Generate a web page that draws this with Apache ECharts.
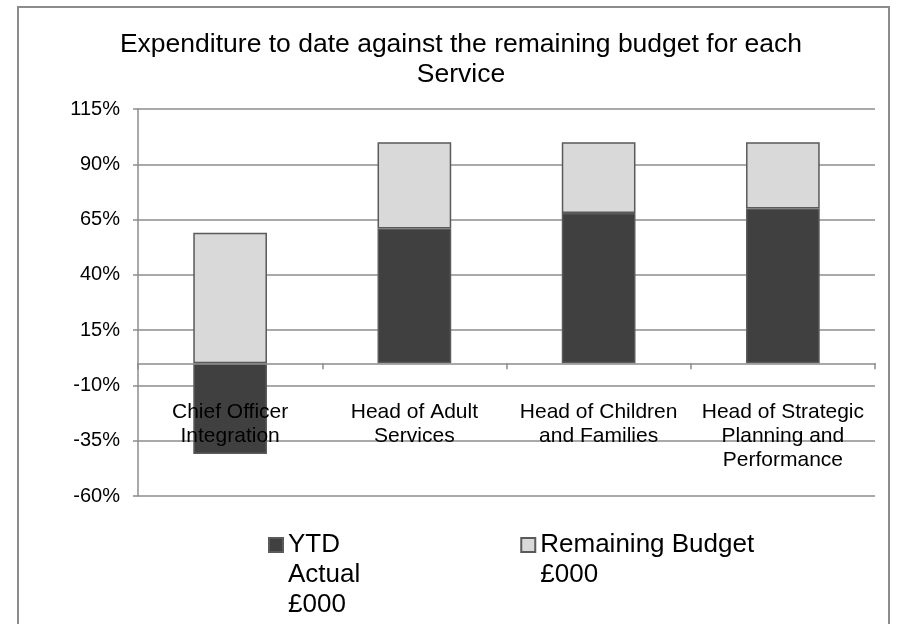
<!DOCTYPE html>
<html>
<head>
<meta charset="utf-8">
<script src="https://cdn.jsdelivr.net/npm/echarts@6/dist/echarts.min.js"></script>
<style>
  html, body { margin: 0; padding: 0; background: #fff; }
  #chart { width: 908px; height: 624px; }
</style>
</head>
<body>
<div id="chart"></div>
<script>
// categories as drawn (Excel wraps them)
const categories = ['Chief Officer\nIntegration', 'Head of Adult\nServices', 'Head of Children\nand Families', 'Head of Strategic\nPlanning and\nPerformance']
const seriesNames = ['YTD Actual £000', 'Remaining Budget £000']
// legend text wraps; blank lines keep the icon next to the first line
const legendLabels = {
  'YTD Actual £000': '\n\nYTD\nActual\n£000',
  'Remaining Budget £000': '\n\nRemaining Budget\n£000\n'
}
const ytdActual = [-41, 61, 68, 70]
const remainingBudget = [59, 39, 32, 30]
const yMin = -60
const yMax = 115
const yStep = 25

const colors = ['#404040', '#d9d9d9']
const font = 'Liberation Sans, Arial, sans-serif'

const chart = echarts.init(document.getElementById('chart'), null, { renderer: 'canvas' })
const option = {
  animation: false,
  color: colors,
  textStyle: { fontFamily: font },
  title: {
    text: 'Expenditure to date against the remaining budget for each\nService',
    left: 461,
    top: 30,
    padding: 0,
    textAlign: 'center',
    textStyle: { fontFamily: font, fontSize: 26.5, fontWeight: 'normal', color: '#000', lineHeight: 30 }
  },
  graphic: [{
    type: 'rect',
    shape: { x: 18, y: 7, width: 871, height: 660 },
    style: { fill: 'none', stroke: '#8c8c8c', lineWidth: 2 },
    silent: true
  }],
  legend: {
    data: seriesNames,
    left: 268,
    top: 470,
    padding: 0,
    itemWidth: 14,
    itemHeight: 14,
    itemGap: 160,
    icon: 'rect',
    formatter: name => legendLabels[name],
    textStyle: { fontFamily: font, fontSize: 26, color: '#000', lineHeight: 30 }
  },
  grid: { left: 138, right: 33, top: 109, bottom: 128, containLabel: false },
  xAxis: {
    type: 'category',
    data: categories,
    z: 5, // labels sit on top of the bars, as in Excel
    axisLine: { onZero: true, lineStyle: { color: '#8c8c8c', width: 1.5 } },
    axisTick: { show: true, length: 6, lineStyle: { color: '#8c8c8c', width: 1.5 } },
    axisLabel: { margin: -96, fontSize: 21, lineHeight: 24, color: '#000', fontFamily: font, interval: 0 }
  },
  yAxis: {
    type: 'value',
    min: yMin,
    max: yMax,
    interval: yStep,
    axisLine: { show: true, lineStyle: { color: '#8c8c8c', width: 1.5 } },
    axisTick: { show: true, length: 5, lineStyle: { color: '#8c8c8c', width: 1.5 } },
    axisLabel: { margin: 18, fontSize: 20, color: '#000', fontFamily: font, formatter: '{value}%' },
    splitLine: { show: true, lineStyle: { color: '#8c8c8c', width: 1.5 } }
  },
  series: [
    {
      name: seriesNames[0],
      type: 'bar',
      stack: 'total',
      barWidth: '40%',
      data: ytdActual,
      itemStyle: { color: colors[0], borderColor: '#5a5a5a', borderWidth: 1.5 }
    },
    {
      name: seriesNames[1],
      type: 'bar',
      stack: 'total',
      barWidth: '40%',
      data: remainingBudget,
      itemStyle: { color: colors[1], borderColor: '#5a5a5a', borderWidth: 1.5 }
    }
  ]
}
chart.setOption(option)
</script>
</body>
</html>
